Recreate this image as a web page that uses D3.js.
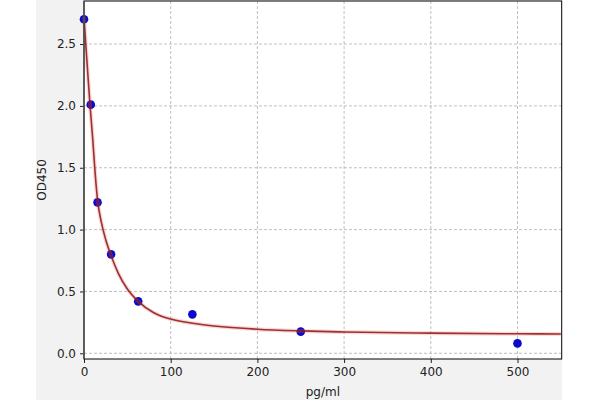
<!DOCTYPE html>
<html lang="en">
<head>
<meta charset="UTF-8">
<title>OD450 standard curve</title>
<script src="https://d3js.org/d3.v7.min.js"></script>
<style>
  body { margin: 0; padding: 0; background: #fff; }
  svg { display: block; font-family: "DejaVu Sans", sans-serif; }
</style>
</head>
<body>
<div id="chart"></div>
<script>
// standard points (pg/ml, OD450)
const stdConc = [0, 7.8, 15.6, 31.25, 62.5, 125, 250, 500];
const stdOD   = [2.70, 2.01, 1.22, 0.80, 0.42, 0.315, 0.175, 0.08];

// fitted curve
const fitConc = [0, 2, 4, 7, 10, 12.5, 15.6, 20, 25, 31.25, 40, 50, 62.5, 80, 90, 100, 125, 150, 200, 250, 300, 400, 500, 550];
const fitOD   = [2.72, 2.50, 2.30, 2.00, 1.74, 1.49, 1.24, 1.06, 0.92, 0.79, 0.64, 0.52, 0.42, 0.33, 0.298, 0.277, 0.243, 0.221, 0.195, 0.181, 0.172, 0.163, 0.158, 0.156];

const xTicks = [0, 100, 200, 300, 400, 500];
const yTicks = [0.0, 0.5, 1.0, 1.5, 2.0, 2.5];

const W = 600, H = 400;
const plot = { left: 84, right: 561.7, top: 1, bottom: 359 };

const svg = d3.select("#chart").append("svg")
    .attr("width", W)
    .attr("height", H);

// figure background (grey panel)
svg.append("rect")
    .attr("x", 36).attr("y", 0)
    .attr("width", 526).attr("height", H)
    .attr("fill", "#f2f2f2");

svg.append("rect")
    .attr("x", plot.left).attr("y", plot.top)
    .attr("width", plot.right - plot.left)
    .attr("height", plot.bottom - plot.top)
    .attr("fill", "#fff");

const x = d3.scaleLinear().domain([0, 551]).range([plot.left, plot.right]);
const y = d3.scaleLinear().domain([-0.046, 2.848]).range([plot.bottom, plot.top]);

// grid
const grid = svg.append("g")
    .attr("stroke", "#b0b0b0")
    .attr("stroke-width", 0.8)
    .attr("stroke-dasharray", "3,2");

grid.selectAll("line.vx").data(xTicks.filter(d => d > 0)).enter().append("line")
    .attr("x1", d => x(d)).attr("x2", d => x(d))
    .attr("y1", plot.top).attr("y2", plot.bottom);

grid.selectAll("line.hy").data(yTicks).enter().append("line")
    .attr("x1", plot.left).attr("x2", plot.right)
    .attr("y1", d => y(d)).attr("y2", d => y(d));

// axes
const xAxis = d3.axisBottom(x).tickValues(xTicks).tickSize(4).tickPadding(4)
    .tickFormat(d3.format("d"));
const yAxis = d3.axisLeft(y).tickValues(yTicks).tickSize(4).tickPadding(4)
    .tickFormat(d3.format(".1f"));

const gx = svg.append("g").attr("transform", `translate(0,${plot.bottom})`).call(xAxis);
const gy = svg.append("g").attr("transform", `translate(${plot.left},0)`).call(yAxis);

[gx, gy].forEach(g => {
    g.select(".domain").remove();
    g.selectAll("text").attr("font-size", 12).attr("fill", "#222")
        .attr("font-family", "DejaVu Sans, sans-serif");
    g.selectAll("line").attr("stroke", "#222");
});

// points
const pts = stdConc.map((c, i) => ({ c: c, od: stdOD[i] }));
svg.append("g").selectAll("circle").data(pts).enter().append("circle")
    .attr("cx", d => x(d.c))
    .attr("cy", d => y(d.od))
    .attr("r", 4.3)
    .attr("fill", "#0a0ac8");

// fitted curve
const fit = fitConc.map((c, i) => ({ c: c, od: fitOD[i] }));
const line = d3.line()
    .x(d => x(d.c))
    .y(d => y(d.od))
    .curve(d3.curveMonotoneX);

svg.append("path")
    .attr("d", line(fit))
    .attr("fill", "none")
    .attr("stroke", "rgba(235,90,90,0.25)")
    .attr("stroke-width", 4);

svg.append("path")
    .attr("d", line(fit))
    .attr("fill", "none")
    .attr("stroke", "#8c1414")
    .attr("stroke-opacity", 0.85)
    .attr("stroke-width", 1.6);

// frame
svg.append("rect")
    .attr("x", plot.left).attr("y", plot.top)
    .attr("width", plot.right - plot.left)
    .attr("height", plot.bottom - plot.top)
    .attr("fill", "none")
    .attr("stroke", "#000")
    .attr("stroke-width", 1);

svg.append("line")
    .attr("x1", plot.left).attr("x2", plot.left)
    .attr("y1", plot.top).attr("y2", plot.bottom)
    .attr("stroke", "#555").attr("stroke-width", 1.6);

// labels
svg.append("text")
    .attr("x", (plot.left + plot.right) / 2)
    .attr("y", 396)
    .attr("text-anchor", "middle")
    .attr("font-size", 12)
    .attr("fill", "#222")
    .text("pg/ml");

svg.append("text")
    .attr("transform", `translate(46,${(plot.top + plot.bottom) / 2}) rotate(-90)`)
    .attr("text-anchor", "middle")
    .attr("font-size", 12)
    .attr("fill", "#222")
    .text("OD450");
</script>
</body>
</html>
